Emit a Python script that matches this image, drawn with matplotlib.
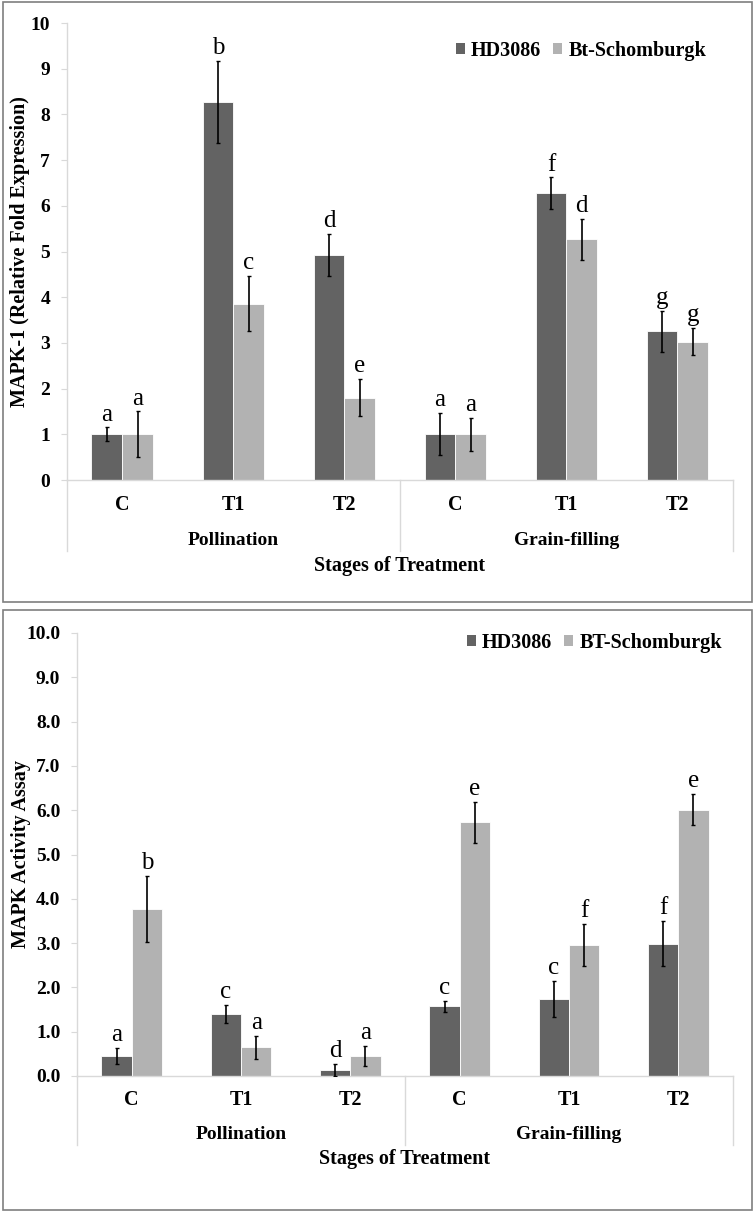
import numpy as np
import matplotlib
matplotlib.use('Agg')
import matplotlib.pyplot as plt
import matplotlib.transforms as mtrans
from matplotlib.patches import Patch, Rectangle

plt.rcParams['font.family'] = ['Liberation Serif', 'DejaVu Serif']

stages = ['C', 'T1', 'T2', 'C', 'T1', 'T2']
groups = ['Pollination', 'Grain-filling']

# MAPK-1 relative fold expression (top panel)
hd_fold = [1.0, 8.27, 4.92, 1.0, 6.27, 3.25]
hd_fold_err = [0.15, 0.90, 0.46, 0.46, 0.35, 0.45]
bt_fold = [1.0, 3.86, 1.80, 1.0, 5.27, 3.03]
bt_fold_err = [0.50, 0.60, 0.41, 0.36, 0.45, 0.30]
hd_fold_let = ['a', 'b', 'd', 'a', 'f', 'g']
bt_fold_let = ['a', 'c', 'e', 'a', 'd', 'g']

# MAPK activity assay (bottom panel)
hd_act = [0.45, 1.40, 0.14, 1.57, 1.74, 2.99]
hd_act_err = [0.18, 0.21, 0.13, 0.13, 0.40, 0.50]
bt_act = [3.77, 0.65, 0.45, 5.73, 2.96, 6.01]
bt_act_err = [0.75, 0.26, 0.22, 0.46, 0.47, 0.35]
hd_act_let = ['a', 'c', 'd', 'c', 'c', 'f']
bt_act_let = ['b', 'a', 'a', 'e', 'f', 'e']

DARK = '#636363'
LIGHT = '#b2b2b2'
AXC = '#d9d9d9'

W, H = 755, 1213
fig = plt.figure(figsize=(W / 100, H / 100), dpi=100)


def fx(px):
    return px / W


def fy(py):
    return 1 - py / H


def panel(ax, hd, hd_err, bt, bt_err, hd_let, bt_let, names, ylabel, yfmt,
          fs, leg_xy, ylab_x):
    x = np.arange(len(stages))
    bw = 0.277
    ax.bar(x - bw / 2, hd, bw, color=DARK, edgecolor='white', linewidth=0.6,
           label=names[0], zorder=2)
    ax.bar(x + bw / 2, bt, bw, color=LIGHT, edgecolor='white', linewidth=0.6,
           label=names[1], zorder=2)
    ax.errorbar(x - bw / 2, hd, yerr=hd_err, fmt='none', ecolor='black',
                elinewidth=1.2, capsize=1.5, capthick=1.0, zorder=3)
    ax.errorbar(x + bw / 2, bt, yerr=bt_err, fmt='none', ecolor='black',
                elinewidth=1.2, capsize=1.5, capthick=1.0, zorder=3)
    for i in range(len(stages)):
        ax.annotate(hd_let[i], (x[i] - bw / 2, hd[i] + hd_err[i]),
                    xytext=(0, 5), textcoords='offset points',
                    ha='center', va='baseline', fontsize=18)
        ax.annotate(bt_let[i], (x[i] + bw / 2, bt[i] + bt_err[i]),
                    xytext=(0, 5), textcoords='offset points',
                    ha='center', va='baseline', fontsize=18)

    ax.set_xlim(-0.5, len(stages) - 0.5)
    ax.set_ylim(0, 10)
    ax.set_yticks(np.arange(0, 11, 1))
    ax.set_yticklabels([yfmt % v for v in range(11)], fontsize=fs,
                       fontweight='bold')
    ax.tick_params(axis='y', length=4, color=AXC, pad=8)
    ax.set_xticks([])
    for s in ['top', 'right']:
        ax.spines[s].set_visible(False)
    for s in ['left', 'bottom']:
        ax.spines[s].set_color(AXC)
        ax.spines[s].set_linewidth(1.0)

    tr = mtrans.blended_transform_factory(ax.transData, ax.transAxes)
    for i, s in enumerate(stages):
        ax.text(x[i], -0.055, s, transform=tr, ha='center', va='center',
                fontsize=14.5, fontweight='bold')
    for j, g in enumerate(groups):
        ax.text(1 + 3 * j, -0.132, g, transform=tr, ha='center', va='center',
                fontsize=14, fontweight='bold')
    for xs in [-0.5, 2.5, 5.5]:
        ax.plot([xs, xs], [0, -0.156], transform=tr, color=AXC, lw=1.0,
                clip_on=False)
    ax.text(0.5, -0.188, 'Stages of Treatment', transform=ax.transAxes,
            ha='center', va='center', fontsize=14.5, fontweight='bold')

    bb = ax.get_position()
    fig.text(ylab_x, (bb.y0 + bb.y1) / 2, ylabel, rotation=90, ha='center',
             va='center', fontsize=14.5, fontweight='bold')

    handles = [Patch(facecolor=DARK, edgecolor='none'),
               Patch(facecolor=LIGHT, edgecolor='none')]
    ax.legend(handles, names, loc='center right', bbox_to_anchor=leg_xy,
              bbox_transform=fig.transFigure, ncol=2, frameon=False,
              prop={'weight': 'bold', 'size': 14.5}, handlelength=0.45,
              handleheight=0.45, handletextpad=0.3, columnspacing=0.6,
              borderpad=0, borderaxespad=0)


ax1 = fig.add_axes([fx(66.7), fy(480), fx(733) - fx(66.7), fy(23) - fy(480)])
panel(ax1, hd_fold, hd_fold_err, bt_fold, bt_fold_err, hd_fold_let,
      bt_fold_let, ['HD3086', 'Bt-Schomburgk'],
      'MAPK-1 (Relative Fold Expression)', '%d', 14, (fx(706), fy(51)),
      fx(20))

ax2 = fig.add_axes([fx(77), fy(1076), fx(733) - fx(77), fy(633) - fy(1076)])
panel(ax2, hd_act, hd_act_err, bt_act, bt_act_err, hd_act_let, bt_act_let,
      ['HD3086', 'BT-Schomburgk'], 'MAPK Activity Assay', '%.1f', 14,
      (fx(722), fy(643)), fx(21))

# panel frames
for top, bot in [(2, 602), (610, 1210)]:
    fig.patches.append(Rectangle((fx(3), fy(bot)), fx(752) - fx(3),
                                 fy(top) - fy(bot), transform=fig.transFigure,
                                 fill=False, edgecolor='#7f7f7f', lw=1.2))

fig.savefig('out.png', dpi=100)
